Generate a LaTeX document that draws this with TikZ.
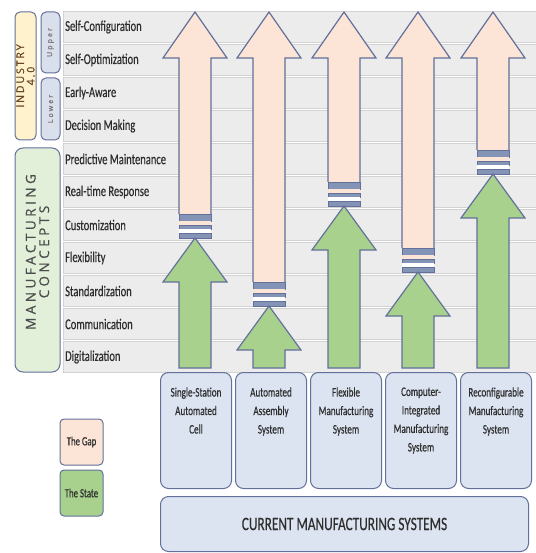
\documentclass[tikz,border=0pt]{standalone}
\usepackage{fontspec}
\setmainfont[FakeStretch=0.7, FakeBold=0.4]{Carlito}
\newfontfamily\headfont[LetterSpace=18, FakeBold=0.6]{Open Sans}
\usetikzlibrary{positioning}

\definecolor{rowgray}{HTML}{ECECEC}
\definecolor{rowline}{HTML}{D2D2D2}
\definecolor{gapfill}{HTML}{FCE4D6}
\definecolor{statefill}{HTML}{A9D18E}
\definecolor{edge}{HTML}{62709A}
\definecolor{barblue}{HTML}{8394B6}
\definecolor{boxfill}{HTML}{DCE4F2}
\definecolor{indfill}{HTML}{FFF2CC}
\definecolor{levelfill}{HTML}{DADFEC}
\definecolor{manfill}{HTML}{E2F0D9}
\definecolor{labeltext}{HTML}{2E2E2E}

% box text, kept at the top of its box
\newcommand\boxtext[1]{\parbox[c][110pt][t]{70pt}{\centering\vspace{12pt}#1}}

\begin{document}
\begin{tikzpicture}[x=1pt, y=-1pt,
  rowband/.style={fill=rowgray, draw=rowline, line width=0.6pt},
  rowlabel/.style={anchor=west, text=labeltext, inner sep=0pt,
    font=\fontsize{15}{16}\selectfont},
  gaparrow/.style={fill=gapfill, draw=edge, line width=1.2pt},
  statearrow/.style={fill=statefill, draw=edge, line width=1.2pt},
  bar/.style={fill=barblue, draw=edge, line width=0.6pt},
  sidebox/.style={draw=edge, line width=1pt, rounded corners=5pt},
  sysbox/.style={draw=edge, fill=boxfill, line width=1pt, rounded corners=8pt,
    inner sep=0pt, minimum width=71pt, minimum height=116pt, text=labeltext,
    font=\fontsize{13}{18.5}\selectfont},
  legend/.style={draw=edge, line width=1pt, rounded corners=4pt, inner sep=0pt,
    minimum width=43pt, minimum height=46pt, text=labeltext,
    font=\fontsize{12.5}{13}\selectfont}]
  \useasboundingbox (0,0) rectangle (535,553);

  % Rows of concepts
  \foreach \lab [count=\i from 0] in {Self-Configuration, Self-Optimization,
      Early-Aware, Decision Making, Predictive Maintenance, Real-time Response,
      Customization, Flexibility, Standardization, Communication, Digitalization} {
    \pgfmathsetmacro\ytop{11+33*\i}
    \draw[rowband] (63,\ytop) rectangle (540,\ytop+31);
    \node[rowlabel] (row\i) at (65,\ytop+16) {\lab};
  }

  % Side headings
  \draw[sidebox, fill=indfill] (15,12) rectangle (36,140);
  \node[rotate=90, text=brown!55!black, align=center, inner sep=0pt,
    font=\headfont\fontsize{10.5}{10.5}\selectfont] (ind) at (25.5,76) {INDUSTRY\\4.0};
  \draw[sidebox, fill=levelfill] (41,12) rectangle (60,73);
  \node[rotate=90, text=black!55, inner sep=0pt,
    font=\headfont\addfontfeature{LetterSpace=30}\fontsize{7}{7}\selectfont] (upper)
    at (50.5,42.5) {Upper};
  \draw[sidebox, fill=levelfill] (41,78) rectangle (60,140);
  \node[rotate=90, text=black!55, inner sep=0pt,
    font=\headfont\addfontfeature{LetterSpace=30}\fontsize{7}{7}\selectfont] (lower)
    at (50.5,109) {Lower};
  \draw[sidebox, fill=manfill, rounded corners=8pt] (15,148) rectangle (60,372);
  \node[rotate=90, text=black!70, align=center, inner sep=0pt,
    font=\headfont\addfontfeature{LetterSpace=26}\fontsize{13.5}{13.5}\selectfont]
    (man) at (37.5,252) {MANUFACTURING\\CONCEPTS};

  % Gap and state arrows: x / gap bottom
  \foreach \cx/\pb in {195/214, 269/282, 344/182, 418/248, 493/150} {
    \pgfmathsetmacro\gt{\pb+24}
    \pgfmathsetmacro\gs{\gt+44}
    \draw[gaparrow] (\cx-16,\pb) -- (\cx-16,58) -- (\cx-32,58) -- (\cx,12)
      -- (\cx+32,58) -- (\cx+16,58) -- (\cx+16,\pb);
    \draw[bar] (\cx-16,\pb) rectangle (\cx+16,\pb+7);
    \fill[gapfill] (\cx-16,\pb+7) rectangle (\cx+16,\pb+11);
    \draw[bar] (\cx-16,\pb+11) rectangle (\cx+16,\pb+15);
    \fill[white] (\cx-16,\pb+15) rectangle (\cx+16,\pb+19);
    \draw[bar] (\cx-16,\pb+19) rectangle (\cx+16,\pb+24);
    \draw[statearrow] (\cx-16,368) -- (\cx-16,\gs) -- (\cx-32,\gs) -- (\cx,\gt)
      -- (\cx+32,\gs) -- (\cx+16,\gs) -- (\cx+16,368) -- cycle;
  }

  % Current systems
  \node[sysbox, anchor=north west] (ssac) at (160,372)
    {\boxtext{Single-Station\\Automated\\Cell}};
  \node[sysbox, right=3pt of ssac] (aas) {\boxtext{Automated\\Assembly\\System}};
  \node[sysbox, right=3pt of aas] (fms) {\boxtext{Flexible\\Manufacturing\\System}};
  \node[sysbox, right=3pt of fms] (cims)
    {\boxtext{Computer-\\Integrated\\Manufacturing\\System}};
  \node[sysbox, right=3pt of cims] (rms)
    {\boxtext{Reconfigurable\\Manufacturing\\System}};
  \node[sysbox, anchor=north west, minimum width=368pt, minimum height=55pt,
    font=\fontsize{19}{20}\selectfont] (cms) at ([yshift=-7pt]ssac.south west)
    {CURRENT MANUFACTURING SYSTEMS};

  % Legend
  \node[legend, fill=gapfill] (gap) at (81.5,442) {The Gap};
  \node[legend, fill=statefill, below=4pt of gap] (state) {The State};
\end{tikzpicture}
\end{document}
